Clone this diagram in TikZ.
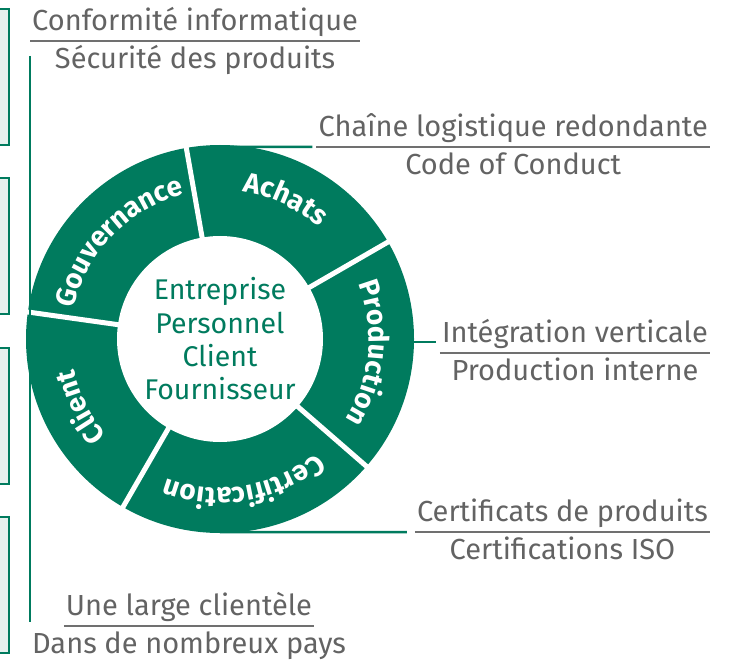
\documentclass[tikz,border=0pt]{standalone}
\usepackage{fontspec}
\setmainfont{Fira Sans}
\usetikzlibrary{positioning,decorations.text}
\definecolor{ringgreen}{RGB}{0,123,94}
\definecolor{labgrey}{RGB}{99,99,99}
\definecolor{rulegrey}{RGB}{112,112,112}
\definecolor{boxfill}{RGB}{230,241,238}
\begin{document}
\begin{tikzpicture}[x=1pt,y=1pt,
  lab/.style={text=labgrey,font=\fontsize{29}{33}\selectfont,inner xsep=2pt,inner ysep=4pt,text height=23pt,text depth=6pt},
  rul/.style={draw=rulegrey,line width=2pt},
  link/.style={draw=ringgreen,line width=2.5pt},
  box/.style={draw=ringgreen,line width=2pt,fill=boxfill},
  seg/.style={decorate,decoration={text along path,text align=center,text={|\color{white}\fontsize{28}{28}\selectfont\bfseries|#1}}}]
\useasboundingbox (0,0) rectangle (738,-660);
% boxes cut by the left edge
\foreach \t in {9,178,348,517}{\draw[box] (-10,-\t) rectangle (9,{-\t-136});};
% ring
\node[circle,fill=ringgreen,minimum size=388,inner sep=0pt] (ring) at (220,-339) {};
\fill[white] (ring.center) circle (103);
\foreach \a in {172,100,30,-41,-120}{\draw[white,line width=5pt] ([shift={(\a:98)}]ring.center) -- ([shift={(\a:197)}]ring.center);};
\path[seg=Client] ([shift={(240:149)}]ring.center) arc (240:172:149);
\path[seg=Gouvernance] ([shift={(172:149)}]ring.center) arc (172:100:149);
\path[seg=Achats] ([shift={(100:149)}]ring.center) arc (100:30:149);
\path[seg=Production] ([shift={(30:149)}]ring.center) arc (30:-41:149);
\path[seg=Certification] ([shift={(-41:149)}]ring.center) arc (-41:-120:149);
\node[align=center,text=ringgreen,font=\fontsize{28.5}{33.3}\selectfont] (core) at (ring.center) {Entreprise\\Personnel\\Client\\Fournisseur};
% labels on the right
\node[lab,anchor=south east] (ach) at (710,-147) {Chaîne logistique redondante};
\node[lab,below=0pt of ach] (achB) {Code of Conduct};
\draw[rul] (ach.south west) -- (ach.south east);
\draw[link] ([yshift=-2pt]ring.north) -- ([xshift=-4pt]ach.south west);
\node[lab,anchor=south east] (prod) at (710,-353) {Intégration verticale};
\node[lab,below=0pt of prod] (prodB) {Production interne};
\draw[rul] (prod.south west) -- (prod.south east);
\draw[link] ([yshift=-3pt]ring.east) -- ([shift={(-4pt,11pt)}]prod.south west);
\node[lab,anchor=south east] (cert) at (710,-532) {Certificats de produits};
\node[lab,below=0pt of cert] (certB) {Certifications ISO};
\draw[rul] (cert.south west) -- (cert.south east);
\draw[link] ([yshift=1pt]ring.south) -- ([xshift=-8pt]cert.south west);
% labels on the left
\node[lab,anchor=south west] (conf) at (30,-41) {Conformité informatique};
\node[lab,below=0pt of conf] (confB) {Sécurité des produits};
\draw[rul] (conf.south west) -- (conf.south east);
\node[lab,anchor=south] (cli) at (189,-626) {Une large clientèle};
\node[lab,below=0pt of cli] (cliB) {Dans de nombreux pays};
\draw[rul] (cli.south west) -- (cli.south east);
\coordinate (vt) at ([yshift=-15pt]conf.south west);
\coordinate (vb) at (vt |- cli.south);
\draw[link,line width=2pt] (vt) -- ([yshift=4pt]vb);
\end{tikzpicture}
\end{document}
